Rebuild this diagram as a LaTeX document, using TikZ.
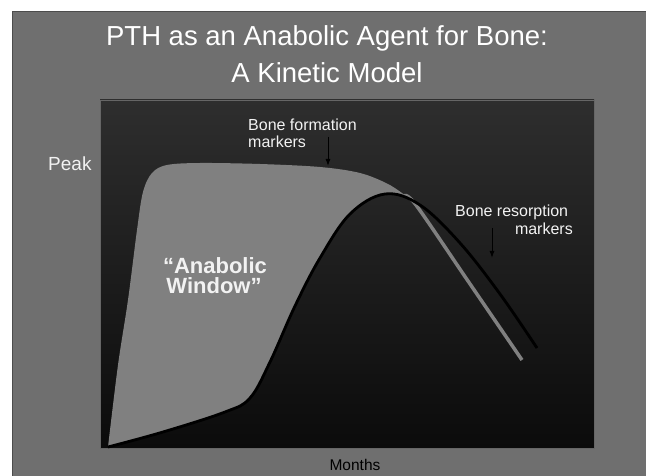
\documentclass[tikz,border=0pt]{standalone}
\usepackage{fontspec}
\setmainfont{Liberation Sans}
\usepackage{xcolor}
\usetikzlibrary{arrows.meta}
\definecolor{slidegray}{HTML}{6F6F6F}
\definecolor{fillgray}{HTML}{808080}
\definecolor{plottop}{HTML}{2E2E2E}
\definecolor{plotbot}{HTML}{0B0B0B}
\definecolor{textwhite}{HTML}{F2F2F2}

\begin{document}
\begin{tikzpicture}[x=1pt, y=-1pt,
    >={Latex[length=7pt,width=5pt]},
    title/.style={font=\fontsize{27.5}{33}\selectfont, text=white, anchor=base, inner sep=0pt},
    lbl/.style={font=\fontsize{16}{19}\selectfont, text=textwhite, inner sep=0pt},
    window/.style={font=\bfseries\fontsize{22}{26}\selectfont, text=textwhite, anchor=base, inner sep=0pt},
    marker/.style={->, line width=1pt, black}
  ]
  \path[use as bounding box, fill=white] (0,0) rectangle (646,476);
  % slide
  \fill[slidegray] (12,12) rectangle (646,476);
  \draw[black!70, line width=1pt] (646,12) -- (12,12) -- (12,476);
  % title
  \node[title] (title1) at (327,46) {PTH as an Anabolic Agent for Bone:};
  \node[title] (title2) at (327,83) {A Kinetic Model};
  % plot area
  \shadedraw[top color=plottop, bottom color=plotbot, draw=black!60, line width=0.8pt] (100,100) rectangle (594,448);
  % anabolic window between the two curves
  \fill[fillgray] plot[smooth, tension=0.55] coordinates {(108,447) (118,365) (128,300) (137,230) (143,192) (152,173) (167,165) (200,163) (260,164) (320,167) (360,173) (388,184) (406,196)}
    -- plot[smooth, tension=0.6] coordinates {(406,198) (385,194) (350,214) (320,258) (295,306) (270,362) (250,398) (225,412) (163,432) (108,447)} -- cycle;
  \draw[fillgray, line width=3.5pt] plot[smooth, tension=0.55] coordinates {(404,196) (416,205) (468,281) (522,360)};
  % resorption curve
  \draw[black, line width=2.8pt] plot[smooth, tension=0.6] coordinates {(108,447) (163,432) (225,412) (250,398) (270,362) (295,306) (320,258) (350,214) (385,194) (420,205) (460,243) (500,294) (537,348)};
  % labels
  \node[font=\fontsize{19}{22}\selectfont, text=textwhite, anchor=base west, inner sep=0pt] (peak) at (48,171) {Peak};
  \node[font=\fontsize{15.5}{18}\selectfont, text=black, anchor=base, inner sep=0pt] (months) at (355,470) {Months};
  \node[window] (window1) at (215,273) {“Anabolic};
  \node[window] (window2) at (214,294) {Window”};
  \node[lbl, anchor=base west] (formlbl1) at (248,131) {Bone formation};
  \node[lbl, anchor=base west] (formlbl2) at (248,148) {markers};
  \node[lbl, anchor=base west] (resolbl1) at (455,217) {Bone resorption};
  \node[lbl, anchor=base east] (resolbl2) at (573,235) {markers};
  % arrows
  \coordinate (formtail) at (328,137);
  \coordinate (formtip) at (328,166);
  \draw[marker] (formtail) -- (formtip);
  \coordinate (resotail) at (492,228);
  \coordinate (resotip) at (492,258);
  \draw[marker] (resotail) -- (resotip);
\end{tikzpicture}
\end{document}
